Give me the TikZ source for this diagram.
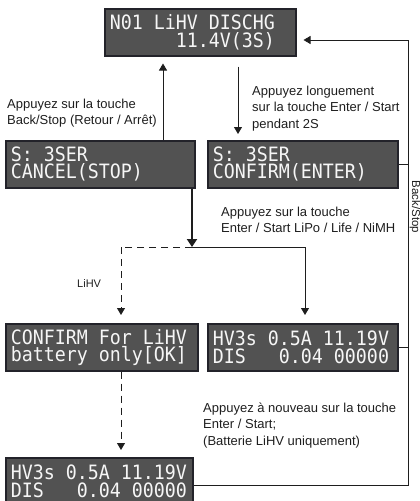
\documentclass[tikz,border=0pt]{standalone}
\usepackage{fontspec}
\setmainfont{Liberation Sans}
\newfontfamily\lcdfont{DejaVu Sans Mono}
\usetikzlibrary{arrows.meta,calc}
\definecolor{lcdbg}{RGB}{82,82,82}
\definecolor{lcdframe}{RGB}{35,35,42}
\definecolor{lcdfg}{RGB}{246,246,246}
\definecolor{ink}{RGB}{30,30,30}
\newcommand\lsp{\hphantom{0}}
\newcommand\lcdlines[2]{\scalebox{1}[1.08]{\vbox{\baselineskip=16pt\hbox{#1}\hbox{#2}}}}
\tikzset{
  lcd/.style={draw=lcdframe, line width=1.5pt, fill=lcdbg, text=lcdfg,
    font=\lcdfont\fontsize{18.3}{18}\selectfont, inner xsep=5pt, inner ysep=0pt,
    minimum height=47pt, align=left, anchor=north west},
  conn/.style={draw=ink, line width=0.9pt},
  connarr/.style={conn, -{Triangle[width=8pt,length=7pt]}},
  thickarr/.style={draw=ink, line width=2pt, -{Triangle[width=10pt,length=8pt]}},
  dashconn/.style={conn, dash pattern=on 7pt off 5pt},
  dasharr/.style={dashconn, -{Triangle[width=8pt,length=7pt]}},
  lbl/.style={font=\fontsize{13}{16.5}\selectfont, align=left, anchor=base west, inner sep=0pt, text=ink}
}
\begin{document}
\begin{tikzpicture}[x=1pt,y=-1pt]
\useasboundingbox (0,0) rectangle (420,501);
% LCD screens
\node[lcd, text width=181pt] (top) at (104,8) {\lcdlines{N01\lsp LiHV\lsp DISCHG}{\lsp\lsp\lsp\lsp\lsp\lsp 11.4V(3S)}};
\node[lcd, text width=179pt] (cancel) at (5,140) {\lcdlines{S:\lsp 3SER}{CANCEL(STOP)}};
\node[lcd, text width=180pt] (confirm) at (207,140) {\lcdlines{S:\lsp 3SER}{CONFIRM(ENTER)}};
\node[lcd, text width=182pt] (lihv) at (5,323) {\lcdlines{CONFIRM\lsp For\lsp LiHV}{battery\lsp only[OK]}};
\node[lcd, text width=180pt] (hvr) at (207,323) {\lcdlines{HV3s\lsp 0.5A\lsp 11.19V}{DIS\lsp\lsp\lsp 0.04\lsp 00000}};
\node[lcd, text width=177pt] (hvb) at (5,457) {\lcdlines{HV3s\lsp 0.5A\lsp 11.19V}{DIS\lsp\lsp\lsp 0.04\lsp 00000}};
% labels (anchored at the baseline of their last line)
\node[lbl] (l1) at (7,124.5) {Appuyez sur la touche\\Back/Stop (Retour / Arrêt)};
\node[lbl] (l2) at (252,128) {Appuyez longuement\\sur la touche Enter / Start\\pendant 2S};
\node[lbl] (l3) at (221,232.5) {Appuyez sur la touche\\Enter / Start LiPo / Life / NiMH};
\node[lbl] (l4) at (203,445) {Appuyez à nouveau sur la touche\\Enter / Start;\\(Batterie LiHV uniquement)};
\node[lbl, font=\fontsize{11}{13}\selectfont] (l5) at (77,287) {LiHV};
\node[font=\fontsize{11.5}{13}\selectfont, text=ink, rotate=-90, inner sep=0pt] (bs) at (415,207) {Back/Stop};
% helper coordinates
\coordinate (xup) at (163,0);
\coordinate (xdn) at (238,0);
\coordinate (split) at (192,247);
\coordinate (lft) at (121,247);
\coordinate (rgt) at (305,247);
\coordinate (rx) at (408,0);
\coordinate (by) at (0,485);
\coordinate (ty) at (0,40);
% connectors
\draw[connarr] (cancel.north -| xup) -- ($(top.south -| xup)+(0,7)$);
\draw[connarr] ($(top.south -| xdn)+(0,10)$) -- ($(confirm.north -| xdn)+(0,-6)$);
\draw[thickarr] (cancel.south -| split) -- (split);
\draw[conn] (split) -- (rgt);
\draw[connarr] (rgt) -- ($(hvr.north -| rgt)+(0,-8)$);
\draw[dashconn] (split) -- (lft);
\draw[dasharr] (lft) -- ($(lihv.north -| lft)+(0,-8)$);
\draw[dasharr] (lihv.south -| lft) -- ($(hvb.north -| lft)+(0,-7)$);
\draw[conn] (confirm.east) -- (confirm.east -| rx);
\draw[conn] (hvr.east) -- (hvr.east -| rx);
\draw[connarr] (hvb.east |- by) -- (rx |- by) -- (rx |- ty) -- ($(top.east |- ty)+(7,0)$);
\end{tikzpicture}
\end{document}
